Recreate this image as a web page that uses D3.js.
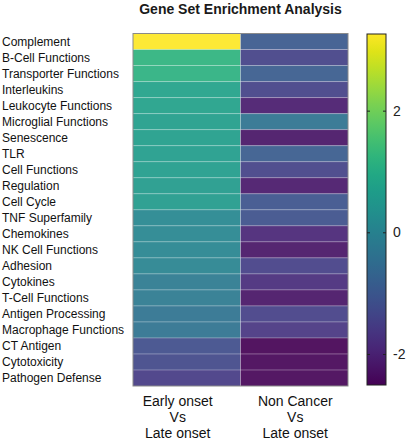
<!DOCTYPE html>
<html>
<head>
<meta charset="utf-8">
<script src="https://cdn.jsdelivr.net/npm/d3@7"></script>
<style>
  html, body { margin: 0; padding: 0; background: #fff; }
  svg { display: block; font-family: "Liberation Sans", Arial, sans-serif; }
</style>
</head>
<body>
<svg id="chart" width="406" height="440"></svg>
<script>
// ---- data ----
const geneSets = [
  "Complement", "B-Cell Functions", "Transporter Functions", "Interleukins",
  "Leukocyte Functions", "Microglial Functions", "Senescence", "TLR",
  "Cell Functions", "Regulation", "Cell Cycle", "TNF Superfamily",
  "Chemokines", "NK Cell Functions", "Adhesion", "Cytokines",
  "T-Cell Functions", "Antigen Processing", "Macrophage Functions",
  "CT Antigen", "Cytotoxicity", "Pathogen Defense"
];
const comparisons = ["Early onset|Vs|Late onset", "Non Cancer|Vs|Late onset"];
const earlyVsLate = [
  3.26, 1.20, 1.15, 0.78, 0.72, 0.66, 0.66, 0.64, 0.63, 0.60, 0.60,
  0.14, 0.09, 0.08, 0.03, -0.20, -0.20, -0.38, -0.38, -1.20, -1.30, -1.53
];
const nonCancerVsLate = [
  -0.95, -1.41, -0.90, -1.41, -2.11, -0.38, -2.22, -0.90, -1.41, -2.16, -1.07,
  -1.13, -1.93, -2.22, -1.47, -1.82, -2.22, -1.47, -1.64, -2.51, -2.45, -2.45
];
const colorbarTicks = [-2, 0, 2];
const title = "Gene Set Enrichment Analysis";

// ---- layout ----
const svg = d3.select("#chart");
const hm = { left: 133, right: 348, top: 33.5, bottom: 386 };
const cb = { left: 367, right: 386, top: 34, bottom: 385 };
const labelDx = [-9, 1];

const series = [earlyVsLate, nonCancerVsLate];
const cells = [];
series.forEach((vals, ci) => vals.forEach((v, ri) => cells.push({ col: comparisons[ci], row: geneSets[ri], v })));

const allVals = earlyVsLate.concat(nonCancerVsLate);
const vMin = d3.min(allVals), vMax = d3.max(allVals);

const x = d3.scaleBand().domain(comparisons).range([hm.left, hm.right]).padding(0);
const y = d3.scaleBand().domain(geneSets).range([hm.top, hm.bottom]).padding(0);
const color = d3.scaleSequential(d3.interpolateViridis).domain([vMin, vMax]);

// title
svg.append("text")
  .attr("x", (hm.left + hm.right) / 2).attr("y", 14)
  .attr("text-anchor", "middle")
  .attr("font-size", 14).attr("font-weight", "bold").attr("fill", "#1a1a1a")
  .text(title);

// cells
svg.append("g").selectAll("rect").data(cells).join("rect")
  .attr("x", d => x(d.col)).attr("y", d => y(d.row))
  .attr("width", x.bandwidth()).attr("height", y.bandwidth())
  .attr("fill", d => color(d.v))
  .attr("fill-opacity", 0.92);

// grid lines
const grid = svg.append("g").attr("stroke", "#ffffff").attr("stroke-opacity", 0.3).attr("stroke-width", 1);
geneSets.slice(1).forEach(g => {
  grid.append("line").attr("x1", hm.left).attr("x2", hm.right)
    .attr("y1", y(g)).attr("y2", y(g));
});
comparisons.slice(1).forEach(c => {
  grid.append("line").attr("y1", hm.top).attr("y2", hm.bottom)
    .attr("x1", x(c)).attr("x2", x(c));
});

// border
svg.append("rect")
  .attr("x", hm.left).attr("y", hm.top)
  .attr("width", hm.right - hm.left).attr("height", hm.bottom - hm.top)
  .attr("fill", "none").attr("stroke", "#8a8a8a").attr("stroke-width", 1);

// row labels
svg.append("g").selectAll("text").data(geneSets).join("text")
  .attr("x", 2).attr("y", d => y(d) + y.bandwidth() / 2)
  .attr("dy", "0.35em")
  .attr("font-size", 12).attr("fill", "#111")
  .text(d => d);

// column labels
const colG = svg.append("g");
comparisons.forEach((c, i) => {
  c.split("|").forEach((line, li) => {
    colG.append("text")
      .attr("x", x(c) + x.bandwidth() / 2 + labelDx[i])
      .attr("y", 406 + li * 16)
      .attr("text-anchor", "middle")
      .attr("font-size", 14).attr("fill", "#111")
      .text(line);
  });
});

// colorbar
const cbScale = d3.scaleLinear().domain([vMin, vMax]).range([cb.bottom, cb.top]);
const defs = svg.append("defs");
const grad = defs.append("linearGradient").attr("id", "cbgrad")
  .attr("x1", 0).attr("y1", 1).attr("x2", 0).attr("y2", 0);
d3.range(0, 1.0001, 0.05).forEach(t => {
  grad.append("stop").attr("offset", t).attr("stop-color", d3.interpolateViridis(t));
});
svg.append("rect")
  .attr("x", cb.left).attr("y", cb.top)
  .attr("width", cb.right - cb.left).attr("height", cb.bottom - cb.top)
  .attr("fill", "url(#cbgrad)")
  .attr("stroke", "#222").attr("stroke-width", 1);

// inward tick marks
const axL = svg.append("g").attr("transform", `translate(${cb.left},0)`)
  .call(d3.axisRight(cbScale).tickValues(colorbarTicks).tickSize(3).tickFormat(""));
const axR = svg.append("g").attr("transform", `translate(${cb.right},0)`)
  .call(d3.axisLeft(cbScale).tickValues(colorbarTicks).tickSize(3).tickFormat(""));
[axL, axR].forEach(a => {
  a.select(".domain").remove();
  a.selectAll(".tick line").attr("stroke", "#222");
});
// tick labels
const axLab = svg.append("g").attr("transform", `translate(${cb.right},0)`)
  .call(d3.axisRight(cbScale).tickValues(colorbarTicks).tickSize(0).tickPadding(7)
    .tickFormat(d => d < 0 ? "-" + Math.abs(d) : String(d)));
axLab.select(".domain").remove();
axLab.selectAll("text").attr("font-size", 14).attr("fill", "#222")
  .attr("font-family", "Liberation Sans, Arial, sans-serif");
</script>
</body>
</html>
